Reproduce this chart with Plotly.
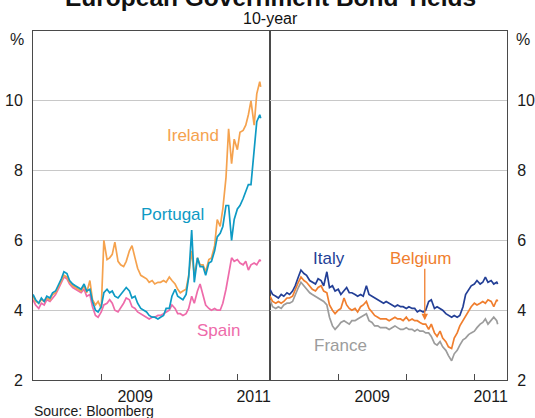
import plotly.graph_objects as go

# ---------------- data ----------------
# semi-monthly observation dates (1st and 15th) from Jan 2008 to May 2011
dates = []
for yr in (2008, 2009, 2010, 2011):
    for mo in range(1, 13):
        for dy in (1, 15):
            s = f"{yr}-{mo:02d}-{dy:02d}"
            if s <= "2011-05-01":
                dates.append(s)
dates.append("2011-05-06")

portugal = [4.45, 4.30, 4.20, 4.35, 4.25, 4.40, 4.35, 4.50, 4.55, 4.70, 4.90, 5.10,
            5.05, 4.85, 4.75, 4.70, 4.65, 4.60, 4.75, 4.55, 4.60, 4.25, 4.00, 3.95,
            4.10, 4.50, 4.60, 4.50, 4.55, 4.40, 4.35, 4.45, 4.55, 4.65, 4.55, 4.35,
            4.40, 4.20, 4.05, 4.00, 3.95, 3.85, 3.80, 3.80, 3.75, 3.80, 3.85, 4.05,
            4.05, 4.40, 4.60, 4.40, 4.35, 4.30, 4.45, 4.95, 6.30, 4.80, 5.50, 5.25,
            5.25, 5.00, 5.35, 5.40, 5.70, 6.10, 6.20, 6.40, 7.00, 7.00, 6.00, 6.60,
            6.90, 7.00, 7.20, 7.40, 7.60, 7.60, 8.50, 9.40, 9.60, 9.50]
ireland = [4.40, 4.25, 4.20, 4.30, 4.25, 4.35, 4.30, 4.45, 4.50, 4.65, 4.85, 5.00,
           4.95, 4.80, 4.70, 4.65, 4.60, 4.55, 4.70, 4.50, 4.85, 4.30, 4.15, 4.25,
           4.05, 6.00, 5.45, 5.50, 5.60, 5.95, 5.40, 5.30, 5.25, 5.40, 5.70, 5.85,
           5.50, 5.20, 5.00, 4.95, 4.90, 4.80, 4.85, 4.75, 4.80, 4.80, 4.85, 4.80,
           4.95, 4.85, 4.75, 4.60, 4.50, 4.55, 4.60, 5.00, 5.70, 5.00, 5.50, 5.30,
           5.30, 5.10, 5.45, 5.50, 5.85, 6.60, 6.40, 6.90, 7.80, 9.20, 8.20, 8.90,
           8.60, 9.10, 9.15, 9.30, 9.60, 10.00, 9.30, 10.20, 10.55, 10.40]
spain = [4.30, 4.15, 4.05, 4.20, 4.15, 4.30, 4.25, 4.35, 4.45, 4.60, 4.80, 4.95,
         4.90, 4.75, 4.65, 4.60, 4.55, 4.50, 4.60, 4.40, 4.45, 4.10, 3.85, 3.80,
         3.95, 4.15, 4.20, 4.30, 4.20, 4.00, 3.95, 4.05, 4.20, 4.35, 4.30, 4.10,
         4.05, 3.95, 3.90, 3.85, 3.80, 3.75, 3.80, 3.80, 3.85, 3.85, 3.90, 3.95,
         4.00, 4.15, 4.05, 3.90, 3.90, 3.85, 3.90, 4.05, 4.40, 4.20, 4.55, 4.75,
         4.45, 4.15, 4.05, 4.00, 4.05, 4.00, 4.00, 4.20, 4.60, 5.00, 5.50, 5.40,
         5.45, 5.35, 5.30, 5.40, 5.15, 5.30, 5.35, 5.30, 5.45, 5.40]
italy = [4.60, 4.45, 4.40, 4.35, 4.45, 4.40, 4.50, 4.45, 4.55, 4.70, 4.95, 5.15,
         5.05, 5.00, 4.85, 4.80, 4.75, 4.90, 4.85, 4.70, 5.10, 4.65, 4.70, 4.55,
         4.60, 4.45, 4.55, 4.65, 4.50, 4.50, 4.45, 4.40, 4.45, 4.40, 4.70, 4.45,
         4.40, 4.35, 4.30, 4.25, 4.20, 4.25, 4.20, 4.15, 4.10, 4.15, 4.10, 4.10,
         4.05, 4.10, 4.05, 4.05, 3.95, 4.00, 3.95, 4.00, 4.25, 4.30, 4.05, 4.10,
         4.05, 4.00, 3.90, 3.85, 3.80, 3.85, 3.80, 3.85, 4.10, 4.45, 4.60, 4.70,
         4.75, 4.85, 4.75, 4.80, 4.95, 4.80, 4.85, 4.75, 4.80, 4.75]
belgium = [4.40, 4.25, 4.20, 4.25, 4.20, 4.25, 4.35, 4.35, 4.40, 4.60, 4.80, 4.95,
           4.85, 4.80, 4.70, 4.60, 4.55, 4.65, 4.70, 4.55, 4.50, 4.15, 4.00, 3.90,
           4.00, 4.05, 4.35, 4.15, 4.05, 4.00, 4.05, 3.95, 4.10, 4.15, 4.25, 4.05,
           3.95, 3.85, 3.80, 3.75, 3.75, 3.75, 3.70, 3.75, 3.80, 3.75, 3.75, 3.70,
           3.80, 3.70, 3.75, 3.70, 3.70, 3.65, 3.60, 3.60, 3.45, 3.60, 3.35, 3.25,
           3.40, 3.20, 3.10, 2.95, 2.90, 3.20, 3.35, 3.55, 3.70, 3.85, 4.00, 4.10,
           4.20, 4.15, 4.20, 4.25, 4.20, 4.30, 4.25, 4.10, 4.30, 4.25]
france = [4.30, 4.10, 4.05, 4.10, 4.05, 4.15, 4.20, 4.20, 4.25, 4.45, 4.65, 4.80,
          4.70, 4.60, 4.50, 4.45, 4.40, 4.35, 4.30, 4.25, 4.15, 3.80, 3.55, 3.45,
          3.55, 3.65, 3.70, 3.65, 3.60, 3.70, 3.70, 3.75, 3.80, 3.85, 3.90, 3.70,
          3.65, 3.55, 3.55, 3.50, 3.50, 3.50, 3.45, 3.50, 3.55, 3.50, 3.45, 3.45,
          3.50, 3.45, 3.45, 3.40, 3.45, 3.40, 3.40, 3.35, 3.35, 3.25, 3.05, 3.00,
          3.10, 2.95, 2.85, 2.70, 2.55, 2.75, 2.85, 3.00, 3.15, 3.20, 3.30, 3.35,
          3.40, 3.50, 3.60, 3.65, 3.75, 3.60, 3.70, 3.80, 3.70, 3.60]

y_ticks = [2, 4, 6, 8, 10]
year_ticks = ["2009-01-01", "2010-01-01", "2011-01-01"]
x_label_pos = ["2009-07-02", "2011-03-29"]
x_label_text = ["2009", "2011"]
x_range = ["2008-01-01", "2011-06-25"]
y_range = [2, 12]

# ---------------- styles ----------------
FONT = "Liberation Sans, Arial, sans-serif"
FRAME = "#4a4a4a"
GRID = "#c8c8c8"
C_IRE = "#F5A24E"
C_POR = "#0E9AC4"
C_SPA = "#EE6BAA"
C_ITA = "#233F96"
C_BEL = "#F07E2E"
C_FRA = "#9C9C9C"

fig = go.Figure()

left = [("Spain", spain, C_SPA), ("Ireland", ireland, C_IRE), ("Portugal", portugal, C_POR)]
right = [("France", france, C_FRA), ("Belgium", belgium, C_BEL), ("Italy", italy, C_ITA)]

for name, vals, col in left:
    fig.add_trace(go.Scatter(x=dates, y=vals, name=name, mode="lines",
                             line=dict(color=col, width=1.7),
                             xaxis="x", yaxis="y", showlegend=False, hoverinfo="skip"))
for name, vals, col in right:
    fig.add_trace(go.Scatter(x=dates, y=vals, name=name, mode="lines",
                             line=dict(color=col, width=1.7),
                             xaxis="x2", yaxis="y2", showlegend=False, hoverinfo="skip"))

def xax(domain, anchor):
    return dict(domain=domain, anchor=anchor, type="date", range=x_range,
                automargin=False,
                tickmode="array", tickvals=x_label_pos, ticktext=x_label_text,
                ticks="", ticklabelstandoff=2,
                tickfont=dict(size=16, color="#1a1a1a", family=FONT),
                showgrid=False, zeroline=False,
                showline=True, mirror=True, linecolor=FRAME, linewidth=1,
                minor=dict(tickmode="array", tickvals=year_ticks, ticks="inside",
                           ticklen=6, tickcolor=FRAME, tickwidth=1, showgrid=False),
                fixedrange=True)

def yax(anchor, side):
    return dict(anchor=anchor, side=side, range=y_range, domain=[0, 1],
                automargin=False,
                tickmode="array", tickvals=y_ticks, ticks="",
                ticklabelstandoff=6,
                tickfont=dict(size=16, color="#1a1a1a", family=FONT),
                showgrid=True, gridcolor=GRID, gridwidth=1, zeroline=False,
                showline=True, mirror=True, linecolor=FRAME, linewidth=1,
                fixedrange=True)

annotations = [
    dict(text="<b>European Government Bond Yields</b>", xref="paper", yref="paper",
         x=0.5, y=1.096, xanchor="center", yanchor="middle", showarrow=False,
         font=dict(size=24.5, color="#111", family=FONT)),
    dict(text="10-year", xref="paper", yref="paper", x=0.5, y=1.037,
         xanchor="center", yanchor="middle", showarrow=False,
         font=dict(size=16, color="#111", family=FONT)),
    dict(text="%", xref="paper", yref="paper", x=-0.0148, y=0.977,
         xanchor="right", yanchor="middle", showarrow=False,
         font=dict(size=16, color="#1a1a1a", family=FONT)),
    dict(text="%", xref="paper", yref="paper", x=1.0148, y=0.977,
         xanchor="left", yanchor="middle", showarrow=False,
         font=dict(size=16, color="#1a1a1a", family=FONT)),
    dict(text="Source: Bloomberg", xref="paper", yref="paper", x=-0.002, y=-0.089,
         xanchor="left", yanchor="middle", showarrow=False,
         font=dict(size=14, color="#1a1a1a", family=FONT)),
    dict(text="Ireland", xref="x", yref="y", x="2010-05-08", y=9.0,
         showarrow=False, font=dict(size=17, color=C_IRE, family=FONT)),
    dict(text="Portugal", xref="x", yref="y", x="2010-01-17", y=6.74,
         showarrow=False, font=dict(size=17, color=C_POR, family=FONT)),
    dict(text="Spain", xref="x", yref="y", x="2010-09-20", y=3.43,
         showarrow=False, font=dict(size=17, color=C_SPA, family=FONT)),
    dict(text="Italy", xref="x2", yref="y2", x="2008-11-12", y=5.47,
         showarrow=False, font=dict(size=17, color=C_ITA, family=FONT)),
    dict(text="Belgium", xref="x2", yref="y2", x="2010-03-17", y=5.47,
         showarrow=False, font=dict(size=17, color=C_BEL, family=FONT)),
    dict(text="France", xref="x2", yref="y2", x="2009-01-13", y=3.0,
         showarrow=False, font=dict(size=17, color=C_FRA, family=FONT)),
    dict(text="", xref="x2", yref="y2", x="2010-04-10", y=3.71,
         axref="x2", ayref="y2", ax="2010-04-10", ay=5.23,
         showarrow=True, arrowhead=2, arrowsize=1, arrowwidth=1.3, arrowcolor=C_BEL),
]

fig.update_layout(
    width=535, height=418,
    margin=dict(l=33, r=28, t=31, b=38, autoexpand=False),
    paper_bgcolor="white", plot_bgcolor="white",
    font=dict(family=FONT, color="#1a1a1a"),
    xaxis=xax([0, 0.5], "y"),
    xaxis2=xax([0.5, 1], "y2"),
    yaxis=yax("x", "left"),
    yaxis2=yax("x2", "right"),
    annotations=annotations,
    showlegend=False,
)

fig.write_html(
    "out.html",
    config={"displayModeBar": False},
    post_script="document.body.style.margin='0';document.body.style.padding='0';"
                "document.body.style.overflow='hidden';",
)
